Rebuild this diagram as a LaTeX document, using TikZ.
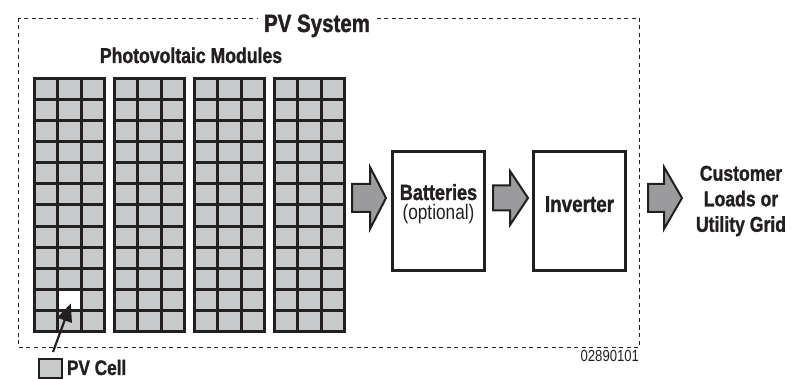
\documentclass[tikz,border=0pt]{standalone}
\usepackage{fontspec}
\setmainfont[FakeStretch=0.82, BoldFeatures={FakeBold=1.3}]{Liberation Sans}
\usetikzlibrary{calc,arrows.meta}
\definecolor{ink}{HTML}{231F20}
\definecolor{cellgray}{HTML}{C8C9CB}
\definecolor{arrowgray}{HTML}{9B9B9D}
\newcommand{\fsz}[1]{\fontsize{#1}{#1}\selectfont}
\newcommand{\blockarr}[6]{%
  \draw[blockarrow] ({#1},{#4-#5}) -- ({#2},{#4-#5}) -- ({#2},{#4-#6}) -- ({#3},{#4})
    -- ({#2},{#4+#6}) -- ({#2},{#4+#5}) -- ({#1},{#4+#5}) -- cycle;}
\begin{document}
\begin{tikzpicture}[x=1pt,y=-1pt,
  every node/.style={inner sep=0pt, outer sep=0pt, text=ink},
  module/.style={draw=ink, line width=3pt, fill=cellgray, minimum width=70pt, minimum height=253pt, anchor=north west},
  gridline/.style={draw=ink, line width=3pt},
  cellwhite/.style={fill=white, minimum width=23.33pt, minimum height=21.08pt, anchor=north west},
  legendbox/.style={draw=ink, line width=2pt, fill=cellgray, minimum width=23pt, minimum height=19pt, anchor=north west},
  unitbox/.style={draw=ink, line width=2.8pt, fill=white, minimum width=92pt, minimum height=119pt, anchor=north west},
  blockarrow/.style={draw=ink, line width=2pt, fill=arrowgray, line join=miter},
  frame/.style={draw=ink, line width=0.9pt, dash pattern=on 4pt off 3.5pt},
  ]
\useasboundingbox (0,0) rectangle (801,379);

% dashed system frame
\draw[frame] (18,18) rectangle (639,347);
\node[font=\fsz{25}\bfseries, fill=white, inner xsep=6pt, anchor=base] (title) at (317,32) {PV System};
\node[font=\fsz{21.5}\bfseries, anchor=base] (modlabel) at (191,63) {Photovoltaic Modules};

% modules
\foreach \m in {1,...,4}{
  \node[module] (mod\m) at ({34.5+80*(\m-1)},78.5) {};
}
\node[cellwhite] (cell) at ($(mod1.north west)+(23.33,210.83)$) {};
\foreach \m in {1,...,4}{
  \foreach \c in {1,2}{
    \draw[gridline] ({34.5+80*(\m-1)+\c*70/3},78.5) -- ({34.5+80*(\m-1)+\c*70/3},331.5);
  }
  \foreach \r in {1,...,11}{
    \draw[gridline] ({34.5+80*(\m-1)},{78.5+\r*253/12}) -- ({104.5+80*(\m-1)},{78.5+\r*253/12});
  }
  \draw[draw=ink, line width=3pt] (mod\m.north west) rectangle (mod\m.south east);
}

% boxes
\node[unitbox] (bat) at (392.5,151.5) {};
\node[unitbox] (inv) at (533.5,151.5) {};
\node[anchor=base] (battext) at (438.5,200) {\fsz{22}\bfseries Batteries};
\node[anchor=base] (optext) at (438.5,220) {\fsz{21}(optional)};
\node[font=\fsz{23}\bfseries, anchor=base] (invtext) at (579.5,212) {Inverter};

% block arrows
\blockarr{352}{370}{386}{198}{14}{31}
\blockarr{493}{510}{528}{198}{12.5}{27}
\blockarr{648}{664}{682}{198}{14}{31}

% output label
\node[font=\fontsize{21.5}{25.5}\selectfont\bfseries, align=center, anchor=center] (loads) at (741,201)
  {Customer\\ Loads or\\ Utility Grid};

% PV cell legend
\node[legendbox] (legend) at (39,359) {};
\node[font=\fsz{21}\bfseries, anchor=base west] (pvlabel) at (67,375) {PV Cell};
\coordinate (tail) at (53,352);
\coordinate (tip) at ($(cell.south west)+(13,-7)$);
\draw[draw=ink, line width=2.2pt, -{Triangle[length=18pt,width=15pt]}] (tail) -- (tip);

% figure number
\node[font=\fsz{16}, anchor=base east] (fignum) at (639,362) {02890101};
\end{tikzpicture}
\end{document}
